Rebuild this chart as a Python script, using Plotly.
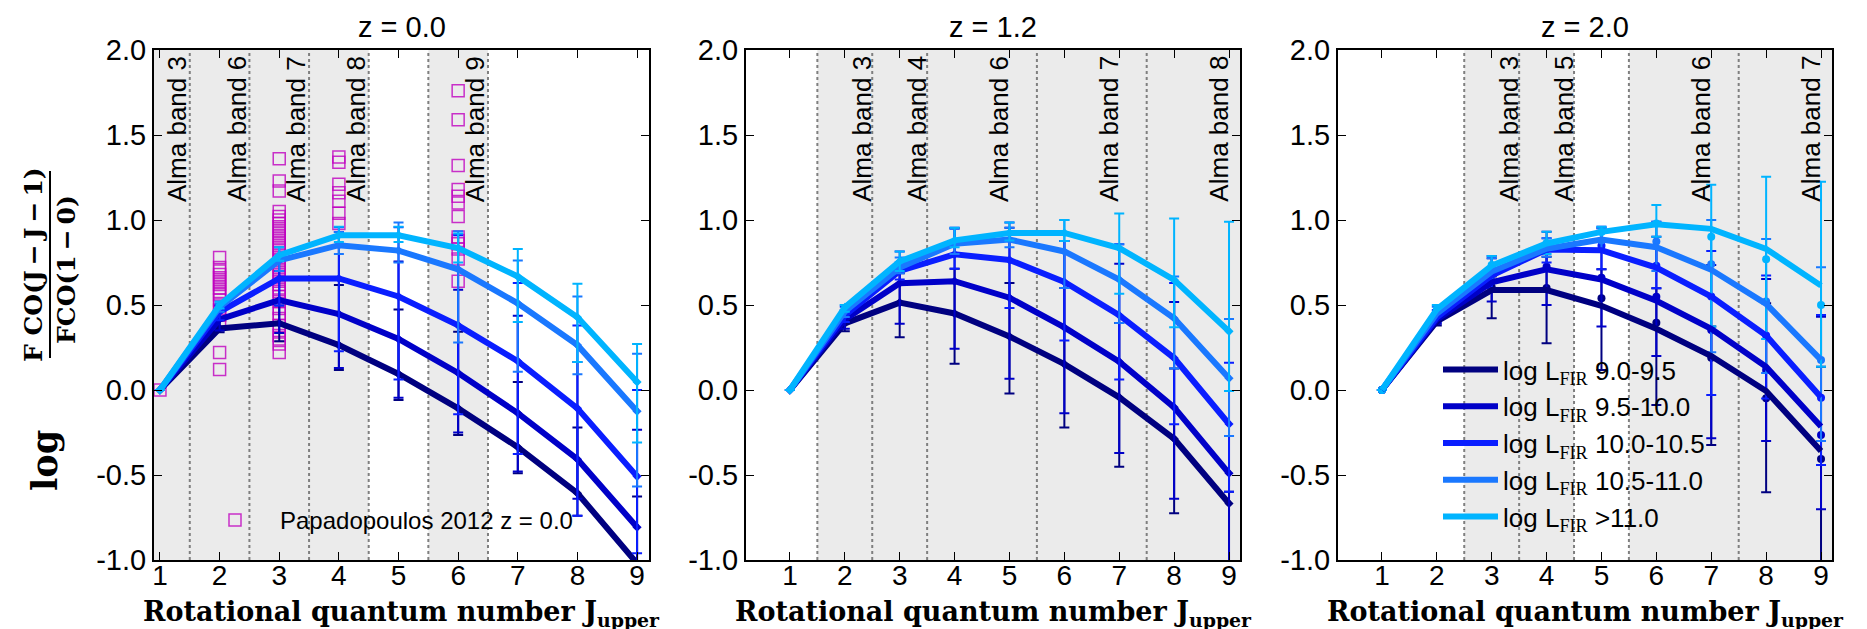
import plotly.graph_objects as go

# ---------------- data ----------------
J = [1, 2, 3, 4, 5, 6, 7, 8, 9]
series_names = ["log L<sub><span style='font-family:Liberation Serif'>FIR</span></sub> 9.0-9.5",
                "log L<sub><span style='font-family:Liberation Serif'>FIR</span></sub> 9.5-10.0",
                "log L<sub><span style='font-family:Liberation Serif'>FIR</span></sub> 10.0-10.5",
                "log L<sub><span style='font-family:Liberation Serif'>FIR</span></sub> 10.5-11.0",
                "log L<sub><span style='font-family:Liberation Serif'>FIR</span></sub> &gt;11.0"]
colors = ["#000080", "#0000c8", "#0a1eff", "#1a78ff", "#00b4ff"]
panel_titles = ["z = 0.0", "z = 1.2", "z = 2.0"]

# z = 0.0 : median ratios and error-bar ends
z0_line = [[0, 0.362, 0.393, 0.264, 0.094, -0.108, -0.336, -0.607, -1.02],
           [0, 0.416, 0.529, 0.447, 0.300, 0.100, -0.136, -0.407, -0.807],
           [0, 0.460, 0.656, 0.656, 0.550, 0.380, 0.170, -0.108, -0.508],
           [0, 0.487, 0.762, 0.852, 0.820, 0.710, 0.510, 0.264, -0.125],
           [0, 0.500, 0.793, 0.910, 0.910, 0.835, 0.668, 0.428, 0.047]]
z0_lo = [[None, 0.34, 0.287, 0.118, -0.059, -0.264, -0.49, -0.74, -1.5],
         [None, 0.35, 0.336, 0.13, -0.045, -0.25, -0.48, -0.64, -1.3],
         [None, 0.41, 0.497, 0.228, 0.0625, -0.143, -0.377, -0.74, -0.96],
         [None, 0.46, 0.70, 0.80, 0.75, 0.28, 0.107, 0.092, -0.568],
         [None, 0.48, 0.76, 0.87, 0.87, 0.75, 0.40, 0.164, -0.309]]
z0_hi = [[None, 0.41, 0.497, 0.617, 0.473, 0.342, 0.047, -0.22, -0.627],
         [None, 0.497, 0.70, 0.93, 0.756, 0.59, 0.4375, 0.164, -0.234],
         [None, 0.497, 0.78, 0.958, 0.958, 0.91, 0.629, 0.379, 0.0],
         [None, 0.51, 0.839, 0.93, 0.986, 0.934, 0.762, 0.55, 0.213],
         [None, 0.52, 0.84, 0.96, 0.96, 0.92, 0.83, 0.625, 0.27]]

# z = 1.2
z1_line = [[0, 0.392, 0.514, 0.450, 0.315, 0.152, -0.043, -0.287, -0.668],
           [0, 0.415, 0.628, 0.640, 0.543, 0.368, 0.167, -0.102, -0.490],
           [0, 0.439, 0.700, 0.798, 0.765, 0.635, 0.440, 0.188, -0.200],
           [0, 0.462, 0.720, 0.860, 0.885, 0.815, 0.650, 0.422, 0.069],
           [0, 0.486, 0.756, 0.880, 0.924, 0.924, 0.835, 0.648, 0.345]]
z1_lo = [[None, 0.345, 0.31, 0.154, -0.02, -0.221, -0.451, -0.725, -1.5],
         [None, 0.36, 0.39, 0.242, 0.066, -0.137, -0.371, -0.64, -1.3],
         [None, 0.40, 0.65, 0.713, 0.482, 0.291, 0.0625, -0.201, -0.598],
         [None, 0.43, 0.6875, 0.80, 0.84, 0.60, 0.394, 0.127, -0.27],
         [None, 0.46, 0.70, 0.84, 0.88, 0.877, 0.566, 0.369, -0.006]]
z1_hi = [[None, 0.44, 0.6875, 0.713, 0.629, 0.60, 0.394, 0.127, -0.598],
         [None, 0.47, 0.75, 0.95, 0.955, 0.877, 0.742, 0.518, -0.27],
         [None, 0.49, 0.814, 0.955, 0.986, 0.877, 0.857, 0.629, 0.16],
         [None, 0.498, 0.78, 0.948, 0.955, 1.0, 0.857, 0.668, 0.418],
         [None, 0.50, 0.814, 0.955, 0.986, 1.0, 1.038, 1.009, 0.99]]

# z = 2.0 : lines (medians), points (means) and error-bar ends
z2_line = [[0, 0.404, 0.588, 0.588, 0.495, 0.360, 0.200, -0.006, -0.359],
           [0, 0.415, 0.634, 0.710, 0.650, 0.525, 0.360, 0.137, -0.215],
           [0, 0.427, 0.674, 0.826, 0.822, 0.720, 0.549, 0.320, -0.042],
           [0, 0.450, 0.697, 0.831, 0.885, 0.840, 0.707, 0.506, 0.177],
           [0, 0.474, 0.732, 0.862, 0.930, 0.975, 0.948, 0.830, 0.614]]
z2_pt = [[0, 0.40, 0.604, 0.60, 0.539, 0.396, 0.19, -0.049, -0.406],
         [0, 0.415, 0.64, 0.725, 0.66, 0.549, 0.353, 0.118, -0.265],
         [0, 0.43, 0.68, 0.83, 0.849, 0.731, 0.55, 0.32, -0.045],
         [0, 0.45, 0.70, 0.84, 0.88, 0.873, 0.739, 0.52, 0.176],
         [0, 0.475, 0.735, 0.865, 0.93, 0.98, 0.902, 0.769, 0.50]]
z2_lo = [[None, 0.38, 0.422, 0.275, 0.118, -0.088, -0.324, -0.602, -1.3],
         [None, 0.39, 0.52, 0.50, 0.373, 0.20, -0.284, -0.30, -0.702],
         [None, 0.40, 0.60, 0.75, 0.71, 0.598, -0.029, -0.05, -0.441],
         [None, 0.42, 0.65, 0.784, 0.82, 0.70, 0.222, 0.10, -0.30],
         [None, 0.45, 0.70, 0.80, 0.88, 0.902, 0.373, 0.30, 0.137]]
z2_hi = [[None, 0.43, 0.667, 0.784, 0.71, 0.598, 0.373, 0.51, 0.137],
         [None, 0.45, 0.775, 0.931, 0.951, 0.902, 0.735, 0.653, 0.431],
         [None, 0.47, 0.788, 0.892, 0.96, 0.99, 0.818, 0.673, 0.441],
         [None, 0.49, 0.775, 0.892, 0.951, 0.99, 1.0, 0.888, 0.722],
         [None, 0.50, 0.788, 0.931, 0.96, 1.088, 1.207, 1.254, 1.225]]

# Papadopoulos 2012 observations (z = 0)
papa_J1 = [0.0]
papa_J2 = [0.78, 0.72, 0.70, 0.68, 0.66, 0.64, 0.62, 0.60, 0.58, 0.56, 0.53, 0.50, 0.47, 0.44, 0.41, 0.22, 0.12]
papa_J3 = [1.36, 1.23, 1.17, 1.05, 1.02, 1.00, 0.98, 0.96, 0.94, 0.92, 0.90, 0.88, 0.86, 0.84, 0.82, 0.80,
           0.78, 0.76, 0.74, 0.72, 0.70, 0.68, 0.66, 0.64, 0.62, 0.60, 0.58, 0.55, 0.52, 0.48, 0.45, 0.42,
           0.38, 0.35, 0.32, 0.30, 0.27, 0.22]
papa_J4 = [1.37, 1.34, 1.21, 1.16, 1.11, 1.04, 0.98]
papa_J6 = [1.76, 1.59, 1.32, 1.18, 1.14, 1.10, 1.02, 0.90, 0.88, 0.86, 0.83, 0.77, 0.64]

# ALMA band coverage per redshift
z0_shade = [(0.9, 4.5), (5.5, 6.5)]
z1_shade = [(1.5, 9.2)]
z2_shade = [(2.5, 4.5), (5.5, 9.2)]
z0_edges = [1.5, 2.5, 3.5, 4.5, 5.5, 6.5]
z1_edges = [1.5, 2.5, 3.5, 5.5, 7.5]
z2_edges = [2.5, 3.5, 4.5, 5.5, 7.5]
z0_band_x = [1.0, 2.0, 3.0, 4.0, 6.0]
z0_band_lbl = ["Alma band 3", "Alma band 6", "Alma band 7", "Alma band 8", "Alma band 9"]
z1_band_x = [2.0, 3.0, 4.5, 6.5, 8.5]
z1_band_lbl = ["Alma band 3", "Alma band 4", "Alma band 6", "Alma band 7", "Alma band 8"]
z2_band_x = [3.0, 4.0, 6.5, 8.5]
z2_band_lbl = ["Alma band 3", "Alma band 5", "Alma band 6", "Alma band 7"]

y_ticks = [-1.0, -0.5, 0.0, 0.5, 1.0, 1.5, 2.0]
y_ticktext = ["-1.0", "-0.5", "0.0", "0.5", "1.0", "1.5", "2.0"]

# ---------------- figure ----------------
W, H = 1867, 629
ML, MR, MT, MB = 146, 43, 42, 77
PW = W - ML - MR
PH = H - MT - MB


def px2paper_x(px):
    return (px - ML) / PW


def px2paper_y(py):
    return (H - MB - py) / PH


domains = [[0.0, px2paper_x(641)], [px2paper_x(738), px2paper_x(1232)], [px2paper_x(1330), 1.0]]
xranges = [[0.9, 9.2], [0.2, 9.2], [0.2, 9.2]]

fig = go.Figure()
SANS = "Liberation Sans"
SERIF = "DejaVu Serif"


def errs(vals, lo, hi):
    up = [None if h is None else h - v for v, h in zip(vals, hi)]
    dn = [None if l is None else v - l for v, l in zip(vals, lo)]
    return up, dn


# Papadopoulos points
papa_x = [1] * len(papa_J1) + [2] * len(papa_J2) + [3] * len(papa_J3) + [4] * len(papa_J4) + [6] * len(papa_J6)
papa_y = papa_J1 + papa_J2 + papa_J3 + papa_J4 + papa_J6
fig.add_trace(go.Scatter(x=papa_x, y=papa_y, mode="markers", xaxis="x", yaxis="y",
                         name="Papadopoulos 2012 z = 0.0", legend="legend2",
                         marker=dict(symbol="square-open", size=12, color="rgba(191,0,191,0.8)",
                                     line=dict(width=1.5))))

# z=0 and z=1.2 lines with error bars
for p, (lines, los, his) in enumerate([(z0_line, z0_lo, z0_hi), (z1_line, z1_lo, z1_hi)]):
    xa = "x" if p == 0 else "x2"
    ya = "y" if p == 0 else "y2"
    for i in range(5):
        up, dn = errs(lines[i], los[i], his[i])
        fig.add_trace(go.Scatter(x=J, y=lines[i], mode="lines+markers", xaxis=xa, yaxis=ya,
                                 name=series_names[i], showlegend=False,
                                 line=dict(color=colors[i], width=6),
                                 marker=dict(symbol="diamond", size=7, color=colors[i]),
                                 error_y=dict(type="data", symmetric=False, array=up, arrayminus=dn,
                                              color=colors[i], thickness=2, width=5)))

# z=2.0 : error points then lines
for i in range(5):
    up, dn = errs(z2_pt[i], z2_lo[i], z2_hi[i])
    fig.add_trace(go.Scatter(x=J, y=z2_pt[i], mode="markers", xaxis="x3", yaxis="y3",
                             name=series_names[i], showlegend=False,
                             marker=dict(symbol="circle", size=8, color=colors[i]),
                             error_y=dict(type="data", symmetric=False, array=up, arrayminus=dn,
                                          color=colors[i], thickness=2, width=5)))
for i in range(5):
    fig.add_trace(go.Scatter(x=J, y=z2_line[i], mode="lines", xaxis="x3", yaxis="y3",
                             name=series_names[i], showlegend=True, legend="legend",
                             line=dict(color=colors[i], width=6)))

# shading, band edges and labels
shapes = []
annotations = []
panel_info = [(z0_shade, z0_edges, z0_band_x, z0_band_lbl), (z1_shade, z1_edges, z1_band_x, z1_band_lbl),
              (z2_shade, z2_edges, z2_band_x, z2_band_lbl)]
for p, (shade, edges, bx, bl) in enumerate(panel_info):
    xr = "x" if p == 0 else "x%d" % (p + 1)
    yr = "y" if p == 0 else "y%d" % (p + 1)
    for a, b in shade:
        shapes.append(dict(type="rect", xref=xr, yref=yr + " domain", x0=a, x1=b, y0=0, y1=1,
                           fillcolor="#ebebeb", line=dict(width=0), layer="below"))
    for e in edges:
        shapes.append(dict(type="line", xref=xr, yref=yr + " domain", x0=e, x1=e, y0=0, y1=1,
                           line=dict(color="#7f7f7f", width=2, dash="dot"), layer="below"))
    for x, t in zip(bx, bl):
        annotations.append(dict(x=x, y=1.535, xref=xr, yref=yr, text=t, showarrow=False,
                                textangle=-90, xanchor="left", yanchor="middle",
                                font=dict(family=SANS, size=26, color="black")))
    # panel title
    annotations.append(dict(x=sum(domains[p]) / 2, y=px2paper_y(19), xref="paper", yref="paper",
                            text=panel_titles[p], showarrow=False, xanchor="center", yanchor="middle",
                            font=dict(family=SANS, size=29, color="black")))
    # x-axis title
    annotations.append(dict(x=sum(domains[p]) / 2, y=px2paper_y(605), xref="paper", yref="paper",
                            text="Rotational quantum number J<sub>upper</sub>", showarrow=False,
                            xanchor="center", yanchor="middle",
                            font=dict(family=SERIF, size=27, color="black", weight="bold")))

# y-axis label: log [F CO(J-J-1) / FCO(1-0)]
annotations.append(dict(x=px2paper_x(36), y=px2paper_y(452), xref="paper", yref="paper", text="log",
                        showarrow=False, textangle=-90, xanchor="center", yanchor="middle",
                        font=dict(family=SERIF, size=35, color="black", weight="bold")))
annotations.append(dict(x=px2paper_x(25), y=px2paper_y(257), xref="paper", yref="paper",
                        text="F CO(J\u2009\u2212\u2009J\u2009\u2212\u20091)", showarrow=False, textangle=-90,
                        xanchor="center", yanchor="middle",
                        font=dict(family=SERIF, size=25, color="black", weight="bold")))
annotations.append(dict(x=px2paper_x(58), y=px2paper_y(262), xref="paper", yref="paper",
                        text="FCO(1\u2009\u2212\u20090)", showarrow=False, textangle=-90,
                        xanchor="center", yanchor="middle",
                        font=dict(family=SERIF, size=25, color="black", weight="bold")))
shapes.append(dict(type="line", xref="paper", yref="paper", x0=px2paper_x(42), x1=px2paper_x(42),
                   y0=px2paper_y(163), y1=px2paper_y(350), line=dict(color="black", width=2)))

fig.update_layout(shapes=shapes, annotations=annotations)

axis_common = dict(showgrid=False, zeroline=False, showline=True, linewidth=2, linecolor="black",
                   mirror="ticks", ticks="inside", ticklen=8, tickwidth=1, tickcolor="black")
for p in range(3):
    xk = "xaxis" if p == 0 else "xaxis%d" % (p + 1)
    yk = "yaxis" if p == 0 else "yaxis%d" % (p + 1)
    fig.update_layout({
        xk: dict(domain=domains[p], range=xranges[p], tickvals=J, ticktext=[str(j) for j in J],
                 anchor="y" if p == 0 else "y%d" % (p + 1), ticklabelstandoff=-11,
                 tickfont=dict(family=SANS, size=28, color="black"), **axis_common),
        yk: dict(domain=[0, 1], range=[-1, 2], tickvals=y_ticks, ticktext=y_ticktext,
                 anchor="x" if p == 0 else "x%d" % (p + 1),
                 tickfont=dict(family=SANS, size=29, color="black"), **axis_common),
    })

fig.update_layout(
    width=W, height=H,
    margin=dict(l=ML, r=MR, t=MT, b=MB),
    paper_bgcolor="white", plot_bgcolor="white",
    showlegend=True,
    legend=dict(x=px2paper_x(1430), y=px2paper_y(338), xanchor="left", yanchor="top",
                bgcolor="rgba(0,0,0,0)", font=dict(family=SANS, size=26, color="black"),
                itemwidth=55, tracegroupgap=0),
    legend2=dict(x=px2paper_x(182), y=px2paper_y(490), xanchor="left", yanchor="top",
                 bgcolor="rgba(0,0,0,0)", font=dict(family=SANS, size=24, color="black"),
                 itemwidth=80),
)

fig.write_html("out.html")
